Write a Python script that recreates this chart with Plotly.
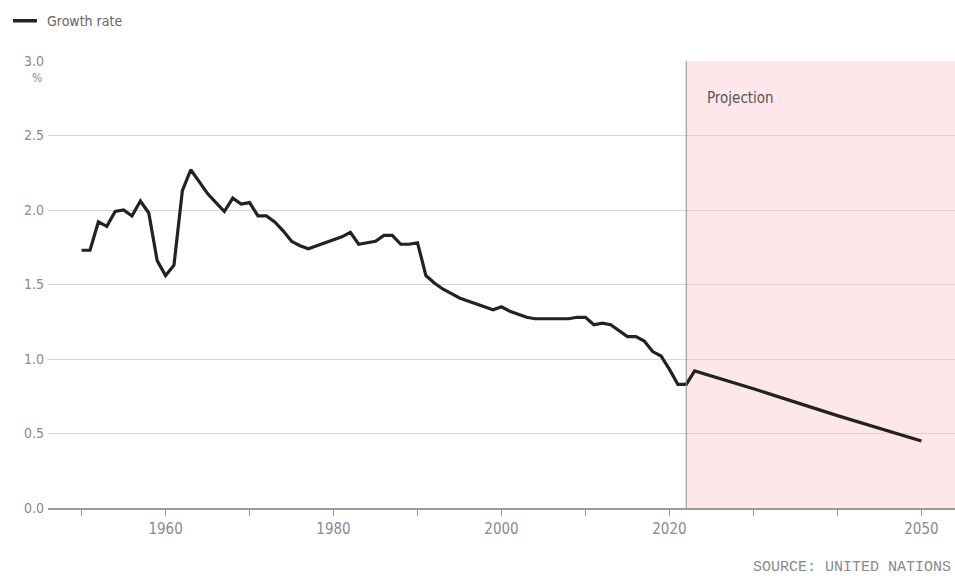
import plotly.graph_objects as go

years = list(range(1950, 2024)) + [2030, 2040, 2050]
growth = [
    1.73, 1.73, 1.92, 1.89, 1.99, 2.00, 1.96, 2.06, 1.98, 1.66,   # 1950-1959
    1.56, 1.63, 2.13, 2.27, 2.19, 2.11, 2.05, 1.99, 2.08, 2.04,   # 1960-1969
    2.05, 1.96, 1.96, 1.92, 1.86, 1.79, 1.76, 1.74, 1.76, 1.78,   # 1970-1979
    1.80, 1.82, 1.85, 1.77, 1.78, 1.79, 1.83, 1.83, 1.77, 1.77,   # 1980-1989
    1.78, 1.56, 1.51, 1.47, 1.44, 1.41, 1.39, 1.37, 1.35, 1.33,   # 1990-1999
    1.35, 1.32, 1.30, 1.28, 1.27, 1.27, 1.27, 1.27, 1.27, 1.28,   # 2000-2009
    1.28, 1.23, 1.24, 1.23, 1.19, 1.15, 1.15, 1.12, 1.05, 1.02,   # 2010-2019
    0.93, 0.83, 0.83, 0.92,                                       # 2020-2023
    0.80, 0.62, 0.45,                                             # 2030, 2040, 2050
]

x_tick_vals = [1950, 1960, 1970, 1980, 1990, 2000, 2010, 2020, 2030, 2040, 2050]
x_tick_text = ["", "1960", "", "1980", "", "2000", "", "2020", "", "", "2050"]
y_tick_vals = [0.0, 0.5, 1.0, 1.5, 2.0, 2.5, 3.0]
y_tick_text = ["0.0", "0.5", "1.0", "1.5", "2.0", "2.5", "3.0"]
projection_start = 2022
x_range = [1946, 2054]

FONT = "Liberation Sans Narrow, DejaVu Sans Condensed, Roboto, sans-serif"
GREY = "#8a8a8a"

fig = go.Figure()

fig.add_shape(type="rect", xref="x", yref="y", x0=projection_start, x1=x_range[1],
              y0=0, y1=3.0, fillcolor="#fde7ea", line_width=0, layer="below")
fig.add_shape(type="line", xref="x", yref="y", x0=projection_start, x1=projection_start,
              y0=0, y1=3.0, line=dict(color="#8c8c8c", width=1))

fig.add_trace(go.Scatter(x=years, y=growth, mode="lines",
                         line=dict(color="#222222", width=3.2), name="Growth rate",
                         showlegend=False))

# legend-like key
fig.add_shape(type="line", xref="paper", yref="paper", x0=-0.0386, x1=-0.0122,
              y0=1.09, y1=1.09, line=dict(color="#222222", width=3.5))
fig.add_annotation(xref="paper", yref="paper", x=-0.0033, y=1.09, text="Growth rate",
                   showarrow=False, xanchor="left", yanchor="middle",
                   font=dict(family=FONT, size=14, color="#666666"))

fig.add_annotation(xref="paper", yref="paper", x=-0.004, y=0.963, text="%",
                   showarrow=False, xanchor="right", yanchor="middle",
                   font=dict(family=FONT, size=12, color=GREY))

fig.add_annotation(xref="x", yref="y", x=2024.2, y=2.75, text="Projection",
                   showarrow=False, xanchor="left", yanchor="middle",
                   font=dict(family=FONT, size=15, color="#555555"))

fig.add_annotation(xref="paper", yref="paper", x=0.998, y=-0.134, text="SOURCE: UNITED NATIONS",
                   showarrow=False, xanchor="right", yanchor="middle",
                   font=dict(family="Liberation Mono, DejaVu Sans Mono, monospace", size=15, color=GREY))

fig.update_xaxes(range=x_range, tickvals=x_tick_vals, ticktext=x_tick_text,
                 ticks="outside", ticklen=6, tickcolor="#9a9a9a", showgrid=False,
                 showline=True, linecolor="#9a9a9a", linewidth=1.5, zeroline=False,
                 tickfont=dict(family=FONT, size=15, color=GREY))
fig.update_yaxes(range=[0, 3.0], tickvals=y_tick_vals, ticktext=y_tick_text,
                 showgrid=True, gridcolor="#d6d6d6", gridwidth=1, zeroline=False,
                 showline=False, ticks="", ticklabelstandoff=3,
                 tickfont=dict(family=FONT, size=14, color=GREY))

fig.update_layout(width=955, height=576, margin=dict(l=48, r=0, t=61, b=68),
                  paper_bgcolor="white", plot_bgcolor="white")

fig.write_html("out.html", config={"displayModeBar": False},
               post_script="document.body.style.margin='0';document.body.style.overflow='hidden';")
